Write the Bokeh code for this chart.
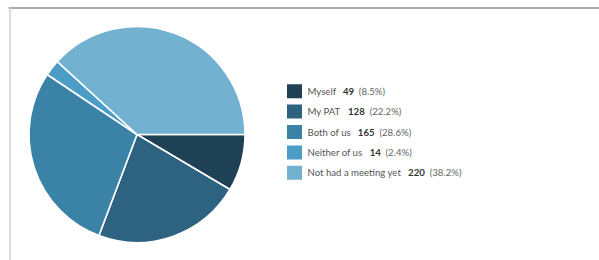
import math
from bokeh.plotting import figure
from bokeh.models import Range1d
from bokeh.core.properties import value
from bokeh.embed import file_html
from bokeh.resources import INLINE

# ---- data ----
labels = ["Myself", "My PAT", "Both of us", "Neither of us", "Not had a meeting yet"]
counts = [49, 128, 165, 14, 220]
percents = ["(8.5%)", "(22.2%)", "(28.6%)", "(2.4%)", "(38.2%)"]
colors = ["#1f4155", "#2d6381", "#3b83a6", "#4b9dc5", "#72b1d0"]

W, H = 599, 260
p = figure(width=W, height=H, output_backend="svg", toolbar_location=None,
           x_range=Range1d(0, W), y_range=Range1d(0, H),
           min_border=0, outline_line_color=None)
p.axis.visible = False
p.grid.visible = False
p.background_fill_color = "white"
p.border_fill_color = "white"

def sy(y):  # screen y -> data y
    return 260 - y

# frame
p.segment(x0=[8], y0=[sy(7.5)], x1=[600], y1=[sy(7.5)], line_color="#8f8f8f", line_width=1.5)
p.segment(x0=[9.5], y0=[sy(7)], x1=[9.5], y1=[sy(262)], line_color="#d2d2d2", line_width=1.5)

# pie
total = sum(counts)
starts, ends = [], []
acc = 0.0
for c in counts:
    starts.append(-2 * math.pi * acc / total)
    acc += c
    ends.append(-2 * math.pi * acc / total)
cx, cy, r = 136.5, sy(134), 108
p.wedge(x=[cx] * len(counts), y=[cy] * len(counts), radius=r, radius_units="screen",
        start_angle=starts, end_angle=ends, direction="clock",
        fill_color=colors, line_color="white", line_width=1.6)

# legend
FS = 9.6
rw = {' ': 193, 'a': 490, 'b': 552, 'c': 450, 'd': 552, 'e': 512, 'f': 313, 'g': 498,
      'h': 550, 'i': 240, 'l': 240, 'm': 820, 'n': 550, 'o': 550, 'r': 360, 's': 420,
      't': 340, 'u': 550, 'y': 490, 'M': 820, 'P': 560, 'A': 670, 'T': 560, 'B': 610,
      'N': 720}
def tw(s, fs=FS):
    return sum(rw.get(ch, 540) for ch in s) * fs / 1000.0 * 1.045

y_rows = [90.7 + i * 20.4 for i in range(len(labels))]
p.rect(x=[294] * len(labels), y=[sy(y) for y in y_rows], width=15, height=14,
       width_units="screen", height_units="screen", fill_color=colors, line_color=None)
tx = 307
num_x = [tx + tw(l) + 7.5 for l in labels]
pct_x = [nx + len(str(c)) * 5.8 + 4.2 for nx, c in zip(num_x, counts)]
fs = f"{FS}px"
p.text(x=[tx] * len(labels), y=[sy(y) for y in y_rows], text=labels,
       text_font=value("Lato"), text_font_size=fs, text_color="#555555",
       text_baseline="middle", text_align="left")
p.text(x=num_x, y=[sy(y) for y in y_rows], text=[str(c) for c in counts],
       text_font=value("Lato"), text_font_size=fs, text_font_style="bold",
       text_color="#333333", text_baseline="middle", text_align="left")
p.text(x=pct_x, y=[sy(y) for y in y_rows], text=percents,
       text_font=value("Lato"), text_font_size=fs, text_color="#666666",
       text_baseline="middle", text_align="left")

open("out.html", "w").write(file_html(p, INLINE))
